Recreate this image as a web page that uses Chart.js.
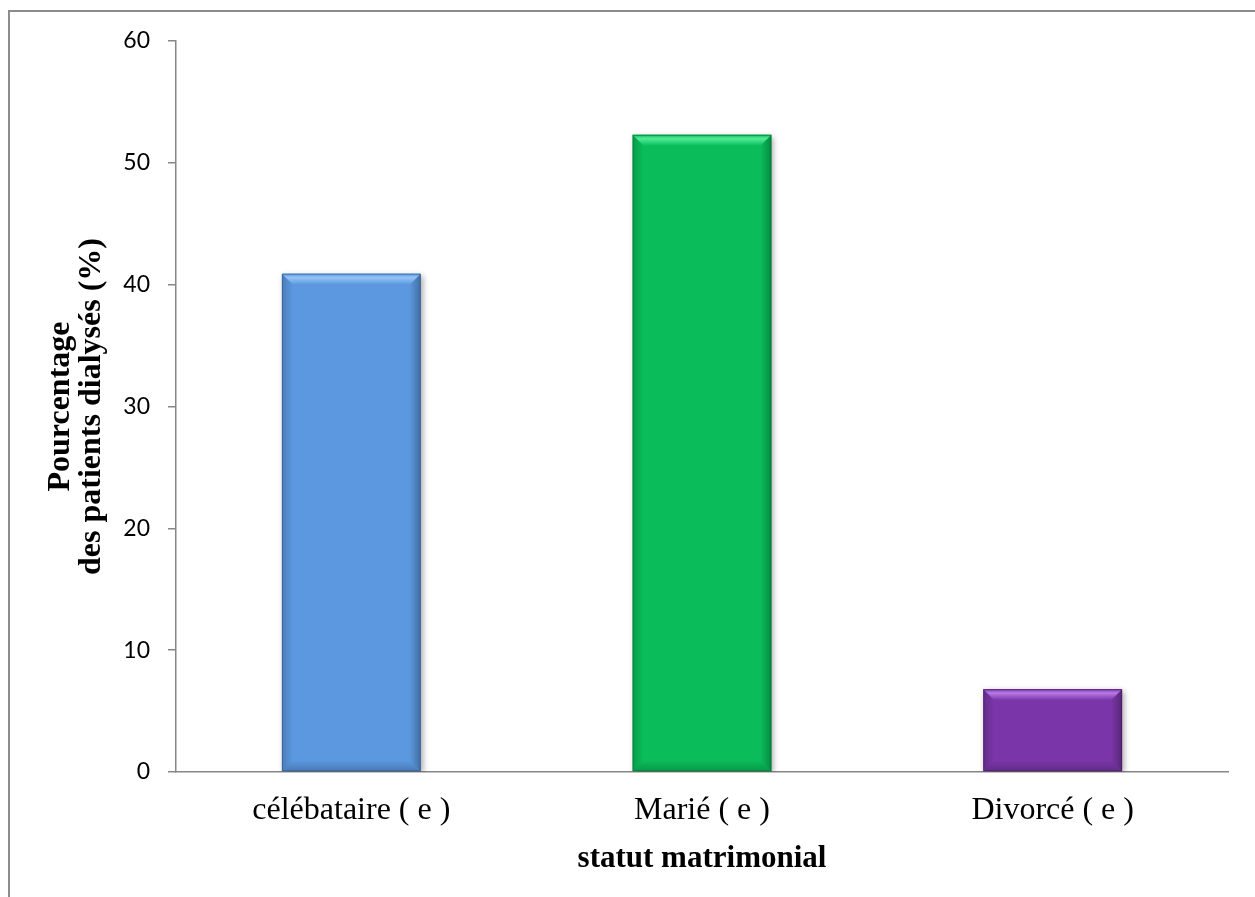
<!DOCTYPE html>
<html>
<head>
<meta charset="utf-8">
<script src="https://cdn.jsdelivr.net/npm/chart.js@4/dist/chart.umd.min.js"></script>
<style>
  html, body { margin: 0; background: #fff; }
  #wrap { width: 1255px; height: 897px; }
</style>
</head>
<body>
<div id="wrap"><canvas id="statutChart" width="1255" height="897"></canvas></div>
<script>
// statut matrimonial des patients dialysés (%)
const categories   = ['célébataire ( e )', 'Marié ( e )', 'Divorcé ( e )'];
const percentages  = [40.9, 52.3, 6.8];
const yTickValues  = [0, 10, 20, 30, 40, 50, 60];

const barFill      = ['#5b98df', '#0abd5a', '#7a36a8'];
const barLight     = ['#94c4f6', '#52eb97', '#b67ae6'];
const barDark      = ['#2c5a92', '#057034', '#431a63'];

const AXIS_GREY = '#878787';
const SERIF = '"Liberation Serif", "Times New Roman", serif';

// frame line along the top and left of the figure
const framePlugin = {
  id: 'frame',
  beforeDraw(chart) {
    const ctx = chart.ctx;
    ctx.save();
    ctx.strokeStyle = '#8c8c8c';
    ctx.lineWidth = 2;
    ctx.beginPath();
    ctx.moveTo(9, chart.height);
    ctx.lineTo(9, 11);
    ctx.lineTo(chart.width, 11);
    ctx.stroke();
    ctx.restore();
  }
};

// soft drop shadow under the bars
const shadowPlugin = {
  id: 'barShadow',
  beforeDatasetDraw(chart) {
    const ctx = chart.ctx;
    ctx.save();
    ctx.shadowColor = 'rgba(0,0,0,0.35)';
    ctx.shadowBlur = 6;
    ctx.shadowOffsetX = 2;
    ctx.shadowOffsetY = 2;
  },
  afterDatasetDraw(chart) {
    chart.ctx.restore();
  }
};

// bevelled faces on each bar
const bevelPlugin = {
  id: 'bevel',
  afterDatasetsDraw(chart) {
    const ctx = chart.ctx;
    const meta = chart.getDatasetMeta(0);
    const b = 11;
    meta.data.forEach((el, i) => {
      const p = el.getProps(['x', 'y', 'base', 'width'], true);
      const l = p.x - p.width / 2, r = p.x + p.width / 2;
      const t = Math.min(p.y, p.base), btm = Math.max(p.y, p.base);
      ctx.save();

      // top facet
      let g = ctx.createLinearGradient(0, t, 0, t + b);
      g.addColorStop(0, barFill[i]);
      g.addColorStop(0.35, barLight[i]);
      g.addColorStop(1, barFill[i]);
      ctx.fillStyle = g;
      ctx.beginPath();
      ctx.moveTo(l, t); ctx.lineTo(r, t); ctx.lineTo(r - b, t + b); ctx.lineTo(l + b, t + b);
      ctx.closePath(); ctx.fill();

      // right facet
      g = ctx.createLinearGradient(r - b, 0, r, 0);
      g.addColorStop(0, 'rgba(0,0,0,0)');
      g.addColorStop(1, 'rgba(0,0,0,0.28)');
      ctx.fillStyle = g;
      ctx.beginPath();
      ctx.moveTo(r, t); ctx.lineTo(r, btm); ctx.lineTo(r - b, btm - b); ctx.lineTo(r - b, t + b);
      ctx.closePath(); ctx.fill();

      // left facet
      g = ctx.createLinearGradient(l, 0, l + b, 0);
      g.addColorStop(0, 'rgba(0,0,0,0.18)');
      g.addColorStop(1, 'rgba(0,0,0,0)');
      ctx.fillStyle = g;
      ctx.beginPath();
      ctx.moveTo(l, t); ctx.lineTo(l + b, t + b); ctx.lineTo(l + b, btm - b); ctx.lineTo(l, btm);
      ctx.closePath(); ctx.fill();

      // bottom facet
      g = ctx.createLinearGradient(0, btm - b, 0, btm);
      g.addColorStop(0, 'rgba(0,0,0,0)');
      g.addColorStop(1, 'rgba(0,0,0,0.2)');
      ctx.fillStyle = g;
      ctx.beginPath();
      ctx.moveTo(l, btm); ctx.lineTo(r, btm); ctx.lineTo(r - b, btm - b); ctx.lineTo(l + b, btm - b);
      ctx.closePath(); ctx.fill();

      // thin outline
      ctx.strokeStyle = barDark[i];
      ctx.globalAlpha = 0.6;
      ctx.lineWidth = 1;
      ctx.strokeRect(l + 0.5, t + 0.5, p.width - 1, btm - t - 1);
      ctx.restore();
    });
  }
};

new Chart(document.getElementById('statutChart'), {
  type: 'bar',
  data: {
    labels: categories,
    datasets: [{
      data: percentages,
      backgroundColor: barFill,
      borderWidth: 0,
      categoryPercentage: 1,
      barPercentage: 0.396,
    }],
  },
  options: {
    responsive: false,
    animation: false,
    events: [],
    layout: { padding: { left: 0, right: 27, top: 41, bottom: 19 } },
    plugins: { legend: { display: false }, tooltip: { enabled: false } },
    scales: {
      x: {
        grid: { display: false, drawTicks: false },
        border: { display: true, color: AXIS_GREY, width: 1.5 },
        ticks: {
          color: '#000',
          padding: 19,
          font: { family: SERIF, size: 32 },
        },
        title: {
          display: true,
          text: 'statut matrimonial',
          color: '#000',
          padding: { top: 0, bottom: 0 },
          font: { family: SERIF, size: 31, weight: 'bold' },
        },
        afterFit(scale) { scale.height = 106; },
      },
      y: {
        min: 0,
        max: 60,
        afterBuildTicks(scale) { scale.ticks = yTickValues.map(v => ({ value: v })); },
        grid: { drawOnChartArea: false, drawTicks: true, tickLength: 8, color: AXIS_GREY, lineWidth: 1.5 },
        border: { display: true, color: AXIS_GREY, width: 1.5 },
        ticks: {
          color: '#000',
          padding: 18,
          font: { family: 'Lato, "Open Sans", sans-serif', size: 23 },
        },
        title: {
          display: true,
          text: ['Pourcentage', 'des patients dialysés (%)'],
          color: '#000',
          padding: { top: 46, bottom: 0 },
          font: { family: SERIF, size: 32, weight: 'bold', lineHeight: 0.95 },
        },
        afterFit(scale) { scale.width = 176; },
      },
    },
  },
  plugins: [framePlugin, shadowPlugin, bevelPlugin],
});
</script>
</body>
</html>
